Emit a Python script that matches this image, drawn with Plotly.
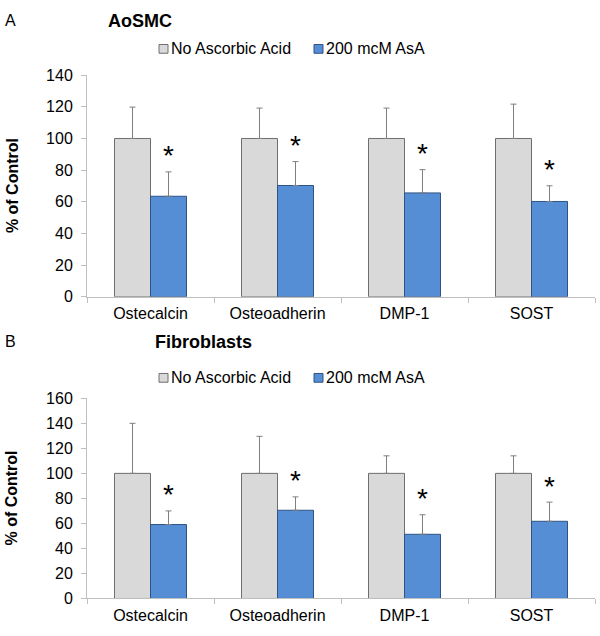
import plotly.graph_objects as go

categories = ["Ostecalcin", "Osteoadherin", "DMP-1", "SOST"]
series_names = ["No Ascorbic Acid", "200 mcM AsA"]

aosmc_no = [100, 100, 100, 100]
aosmc_no_err = [19.8, 19.2, 19.2, 21.7]
aosmc_asa = [63.5, 70.3, 65.6, 60.2]
aosmc_asa_err = [15.4, 15.1, 14.7, 9.9]

fib_no = [100, 100, 100, 100]
fib_no_err = [40.0, 29.6, 14.0, 14.0]
fib_asa = [59.1, 70.5, 51.3, 61.7]
fib_asa_err = [10.9, 10.7, 15.6, 15.3]

FONT = "Liberation Sans, Arial, sans-serif"
GRAY = "#D9D9D9"
GRAY_LINE = "#6E6E6E"
BLUE = "#558ED5"
BLUE_LINE = "#2F5383"
ERR = "#7F7F7F"
AXIS = "#BFBFBF"

W, H = 600, 636
def px(x):
    return x / W
def py(y):
    return 1 - y / H

fig = go.Figure()

def add_panel(no, no_err, asa, asa_err, xa, ya):
    fig.add_trace(go.Bar(
        x=categories, y=no, name=series_names[0], showlegend=False,
        marker=dict(color=GRAY, line=dict(color=GRAY_LINE, width=1)),
        error_y=dict(type="data", array=no_err, arrayminus=[0] * len(no), symmetric=False,
                     color=ERR, thickness=1, width=3),
        xaxis=xa, yaxis=ya, offsetgroup="a"))
    fig.add_trace(go.Bar(
        x=categories, y=asa, name=series_names[1], showlegend=False,
        marker=dict(color=BLUE, line=dict(color=BLUE_LINE, width=1)),
        error_y=dict(type="data", array=asa_err, arrayminus=[0] * len(asa), symmetric=False,
                     color=ERR, thickness=1, width=3),
        xaxis=xa, yaxis=ya, offsetgroup="b"))
    for i, (v, e) in enumerate(zip(asa, asa_err)):
        fig.add_annotation(x=i + 0.1417, y=v + e, xref=xa, yref=ya, text="*",
                           showarrow=False, yanchor="middle", yshift=16,
                           font=dict(family=FONT, size=28, color="black"))

add_panel(aosmc_no, aosmc_no_err, aosmc_asa, aosmc_asa_err, "x", "y")
add_panel(fib_no, fib_no_err, fib_asa, fib_asa_err, "x2", "y2")

xdom = [px(87), px(595)]
common_x = dict(type="category", range=[-0.5, 3.5], showline=True, linecolor=AXIS, linewidth=1,
                ticks="outside", tickson="boundaries", ticklen=5, tickcolor=AXIS,
                ticklabelstandoff=2,
                showgrid=False, zeroline=False, fixedrange=True,
                tickfont=dict(family=FONT, size=16, color="black"))
common_y = dict(showline=True, linecolor=AXIS, linewidth=1, ticks="outside", ticklen=5,
                tickcolor=AXIS, showgrid=False, zeroline=False, dtick=20,
                ticklabelstandoff=5,
                tickfont=dict(family=FONT, size=16, color="black"))

fig.update_layout(
    width=W, height=H, margin=dict(l=0, r=0, t=0, b=0),
    paper_bgcolor="white", plot_bgcolor="white",
    barmode="group", bargap=0.433, bargroupgap=0,
    showlegend=False,
    xaxis=dict(domain=xdom, anchor="y", **common_x),
    yaxis=dict(domain=[py(296.7), py(69)], anchor="x", range=[0, 140], **common_y),
    xaxis2=dict(domain=xdom, anchor="y2", **common_x),
    yaxis2=dict(domain=[py(606.7), py(401)], anchor="x2", range=[0, 160], **common_y),
)

def text(x, y, s, size, bold=False, anchor="left", angle=0):
    fig.add_annotation(x=px(x), y=py(y), xref="paper", yref="paper", text=f"<b>{s}</b>" if bold else s,
                       showarrow=False, xanchor=anchor, yanchor="middle", textangle=angle,
                       font=dict(family=FONT, size=size, color="black"))

# panel labels and titles
text(3, 13, "A", 16)
text(106, 13, "AoSMC", 18, bold=True)
text(3, 343, "B", 16)
text(153, 343, "Fibroblasts", 18, bold=True)

# y-axis titles
text(12, 183, "% of Control", 16, bold=True, anchor="center", angle=-90)
text(12, 504, "% of Control", 16, bold=True, anchor="center", angle=-90)

# legends
for ly in (42, 380):
    for (sx, tx, col, lc, name) in ((159, 169, GRAY, GRAY_LINE, series_names[0]),
                                    (314, 324, BLUE, BLUE_LINE, series_names[1])):
        fig.add_shape(type="rect", xref="paper", yref="paper",
                      x0=px(sx), x1=px(sx + 9), y0=py(ly + 4.5), y1=py(ly - 4.5),
                      fillcolor=col, line=dict(color=lc, width=1))
        text(tx, ly, name, 16)

post = (
    "var s=document.documentElement.style;s.margin='0';s.padding='0';s.overflow='hidden';"
    "var b=document.body.style;b.margin='0';b.padding='0';b.overflow='hidden';"
)
fig.write_html("out.html", config={"displayModeBar": False}, post_script=post)
